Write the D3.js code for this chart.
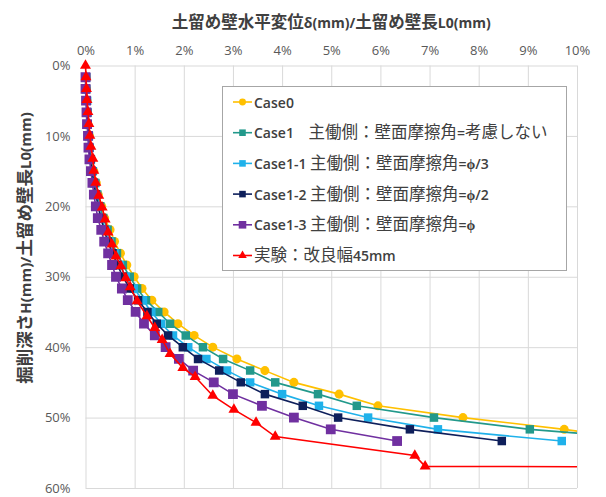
<!DOCTYPE html>
<html>
<head>
<meta charset="utf-8">
<script src="https://cdn.jsdelivr.net/npm/d3@7"></script>
<style>
  body { margin: 0; background: #fff; }
  text { white-space: pre; }
</style>
</head>
<body>
<svg id="chart" width="606" height="497"></svg>
<script>
// Excavation depth ratio H/L0 (%) for each analysis step (5 mm steps on a 300 mm wall)
const stepDepth = [1.67, 3.33, 5.00, 6.67, 8.33, 10.00, 11.67, 13.33, 15.00, 16.67,
                   18.33, 20.00, 21.67, 23.33, 25.00, 26.67, 28.33, 30.00, 31.67, 33.33,
                   35.00, 36.67, 38.33, 40.00, 41.67, 43.33, 45.00, 46.67, 48.33, 50.00,
                   51.67, 53.33];

// Wall displacement ratio δ/L0 (%) per step
const case0Disp  = [0.01, 0.02, 0.03, 0.04, 0.05, 0.08, 0.09, 0.12, 0.17, 0.22,
                    0.26, 0.33, 0.39, 0.50, 0.59, 0.71, 0.84, 0.99, 1.15, 1.35,
                    1.60, 1.88, 2.21, 2.59, 3.08, 3.65, 4.24, 5.16, 5.95, 7.68,
                    9.74, 11.5];
const case1Disp  = [0.01, 0.01, 0.03, 0.04, 0.04, 0.07, 0.08, 0.11, 0.15, 0.20,
                    0.24, 0.30, 0.36, 0.45, 0.53, 0.64, 0.76, 0.90, 1.05, 1.23,
                    1.48, 1.72, 2.04, 2.39, 2.80, 3.35, 3.86, 4.73, 5.52, 7.09,
                    9.04, 12.0];
const case1_1Disp = [0.01, 0.01, 0.03, 0.03, 0.04, 0.06, 0.08, 0.10, 0.14, 0.18,
                    0.22, 0.27, 0.32, 0.41, 0.49, 0.59, 0.70, 0.82, 0.98, 1.17,
                    1.34, 1.54, 1.78, 2.09, 2.46, 2.88, 3.35, 4.00, 4.75, 5.75,
                    7.17, 9.69];
const case1_2Disp = [0.01, 0.01, 0.02, 0.03, 0.04, 0.06, 0.07, 0.10, 0.13, 0.17,
                    0.21, 0.26, 0.31, 0.38, 0.45, 0.55, 0.65, 0.76, 0.90, 1.07,
                    1.26, 1.45, 1.68, 1.98, 2.29, 2.72, 3.16, 3.65, 4.42, 5.14,
                    6.60, 8.47];
const case1_3Disp = [0.00, 0.00, 0.01, 0.02, 0.03, 0.05, 0.06, 0.08, 0.11, 0.14,
                    0.17, 0.21, 0.25, 0.32, 0.38, 0.46, 0.54, 0.62, 0.74, 0.86,
                    1.02, 1.19, 1.41, 1.63, 1.90, 2.19, 2.61, 3.00, 3.59, 4.24,
                    4.99, 6.34];

// Model test (improved width 45 mm): measured displacement and depth (%)
const expDisp  = [0.00, 0.01, 0.02, 0.03, 0.05, 0.07, 0.09, 0.11, 0.15, 0.17,
                  0.21, 0.27, 0.34, 0.40, 0.46, 0.54, 0.62, 0.72, 0.82, 0.91,
                  1.05, 1.25, 1.41, 1.56, 1.72, 1.98, 2.23, 2.59, 3.02, 3.47,
                  3.86, 6.70, 6.91, 12.0];
const expDepth = [0.00, 1.63, 3.32, 4.88, 6.58, 8.27, 9.97, 11.53, 13.22, 14.92,
                  16.62, 18.46, 20.16, 21.85, 23.69, 25.39, 27.09, 28.50, 30.20, 31.47,
                  33.45, 35.57, 37.27, 38.97, 40.95, 42.93, 44.20, 46.89, 48.87, 50.71,
                  52.69, 55.38, 56.93, 57.00];

const seriesNames = [
  "Case0",
  "Case1    主働側：壁面摩擦角=考慮しない",
  "Case1-1 主働側：壁面摩擦角=ϕ/3",
  "Case1-2 主働側：壁面摩擦角=ϕ/2",
  "Case1-3 主働側：壁面摩擦角=ϕ",
  "実験：改良幅45mm"
];
const xTickValues = [0, 1, 2, 3, 4, 5, 6, 7, 8, 9, 10];
const yTickValues = [0, 10, 20, 30, 40, 50, 60];
const xTitle = "土留め壁水平変位δ(mm)/土留め壁長L0(mm)";
const yTitle = "掘削深さH(mm)/土留め壁長L0(mm)";

// ---- series table built from the arrays above ----
const series = [
  { name: seriesNames[0], color: "#FFC000", symbol: d3.symbolCircle, size: 64,
    pts: case0Disp.map((v, i) => [v, stepDepth[i]]) },
  { name: seriesNames[1], color: "#22998B", symbol: d3.symbolSquare, size: 72,
    pts: case1Disp.map((v, i) => [v, stepDepth[i]]) },
  { name: seriesNames[2], color: "#1FB1EA", symbol: d3.symbolSquare, size: 72,
    pts: case1_1Disp.map((v, i) => [v, stepDepth[i]]) },
  { name: seriesNames[3], color: "#0E1F5B", symbol: d3.symbolSquare, size: 72,
    pts: case1_2Disp.map((v, i) => [v, stepDepth[i]]) },
  { name: seriesNames[4], color: "#7030A0", symbol: d3.symbolSquare, size: 96,
    pts: case1_3Disp.map((v, i) => [v, stepDepth[i]]) },
  { name: seriesNames[5], color: "#FF0000", symbol: d3.symbolTriangle, size: 52,
    pts: expDisp.map((v, i) => [v, expDepth[i]]) }
];

const svg = d3.select("#chart");
const plot = { left: 85.5, right: 577, top: 65.5, bottom: 488 };

const x = d3.scaleLinear().domain([0, 10]).range([plot.left, plot.right]);
const y = d3.scaleLinear().domain([0, 60]).range([plot.top, plot.bottom]);

const CJK = /[\u3000-\u30ff\u4e00-\u9fff\uff00-\uffef]/;
// Writes a mixed Japanese / Latin string as runs so each script gets its own font
function writeRuns(textSel, str, cjk, latin) {
  str.split(/([\u3000-\u30ff\u4e00-\u9fff\uff00-\uffef]+)/)
    .filter(s => s.length)
    .forEach(part => {
      const st = CJK.test(part) ? cjk : latin;
      textSel.append("tspan")
        .attr("font-family", st.family)
        .attr("font-size", st.size)
        .attr("font-weight", st.weight)
        .text(part);
    });
}

// ---- gridlines and tick labels ----
const xAxis = svg.append("g")
  .attr("transform", `translate(0,${plot.top})`)
  .call(d3.axisTop(x).tickValues(xTickValues).tickFormat(d => d + "%")
        .tickSize(-(plot.bottom - plot.top)).tickPadding(11));
const yAxis = svg.append("g")
  .attr("transform", `translate(${plot.left},0)`)
  .call(d3.axisLeft(y).tickValues(yTickValues).tickFormat(d => d + "%")
        .tickSize(-(plot.right - plot.left)).tickPadding(15));

[xAxis, yAxis].forEach(g => {
  g.select(".domain").remove();
  g.selectAll(".tick line").attr("stroke", "#d9d9d9").attr("stroke-width", 1);
  g.selectAll(".tick text")
    .attr("fill", "#595959")
    .attr("font-family", "Open Sans, sans-serif")
    .attr("font-size", 13);
});

// ---- axis titles ----
const titleCJK = { family: "Noto Sans CJK JP", size: 16.5, weight: 700 };
const titleLatin = { family: "Open Sans", size: 14, weight: 700 };

const xt = svg.append("text")
  .attr("x", (plot.left + plot.right) / 2)
  .attr("y", 28)
  .attr("text-anchor", "middle")
  .attr("fill", "#404040");
writeRuns(xt, xTitle, titleCJK, titleLatin);

const yTitleSize = { cjk: { family: "Noto Sans CJK JP", size: 17.5, weight: 700 },
                     latin: { family: "Open Sans", size: 15, weight: 700 } };
const yt = svg.append("text")
  .attr("transform", "translate(31,248) rotate(-90)")
  .attr("text-anchor", "middle")
  .attr("fill", "#404040");
writeRuns(yt, yTitle, yTitleSize.cjk, yTitleSize.latin);

// ---- data series ----
svg.append("clipPath").attr("id", "plotClip")
  .append("rect")
  .attr("x", plot.left - 12).attr("y", plot.top - 12)
  .attr("width", plot.right - plot.left + 12)
  .attr("height", plot.bottom - plot.top + 24);

const dataLayer = svg.append("g").attr("clip-path", "url(#plotClip)");
const line = d3.line().x(d => x(d[0])).y(d => y(d[1]));

series.forEach(s => {
  const g = dataLayer.append("g");
  g.append("path")
    .datum(s.pts)
    .attr("d", line)
    .attr("fill", "none")
    .attr("stroke", s.color)
    .attr("stroke-width", 1.6);
  g.selectAll("path.mark")
    .data(s.pts.filter(d => d[0] <= 10))
    .join("path")
    .attr("class", "mark")
    .attr("d", d3.symbol().type(s.symbol).size(s.size))
    .attr("transform", d => `translate(${x(d[0])},${y(d[1])})`)
    .attr("fill", s.color);
});

// ---- legend ----
const legend = svg.append("g");
legend.append("rect")
  .attr("x", 222.5).attr("y", 86.5)
  .attr("width", 344).attr("height", 184)
  .attr("fill", "#fff")
  .attr("stroke", "#a6a6a6")
  .attr("stroke-width", 1);

const legCJK = { family: "Noto Sans CJK JP", size: 16.5, weight: 400 };
const legLatin = { family: "Open Sans", size: 14, weight: 600 };

series.forEach((s, i) => {
  const cy = 102 + i * 30.7;
  const row = legend.append("g");
  row.append("line")
    .attr("x1", 233).attr("x2", 252)
    .attr("y1", cy).attr("y2", cy)
    .attr("stroke", s.color).attr("stroke-width", 1.6);
  row.append("path")
    .attr("d", d3.symbol().type(s.symbol).size(s.size * 0.6))
    .attr("transform", `translate(242.5,${cy})`)
    .attr("fill", s.color);
  const t = row.append("text")
    .attr("x", 254).attr("y", cy)
    .attr("dy", "0.35em")
    .attr("fill", "#404040");
  writeRuns(t, s.name, legCJK, legLatin);
});
</script>
</body>
</html>
